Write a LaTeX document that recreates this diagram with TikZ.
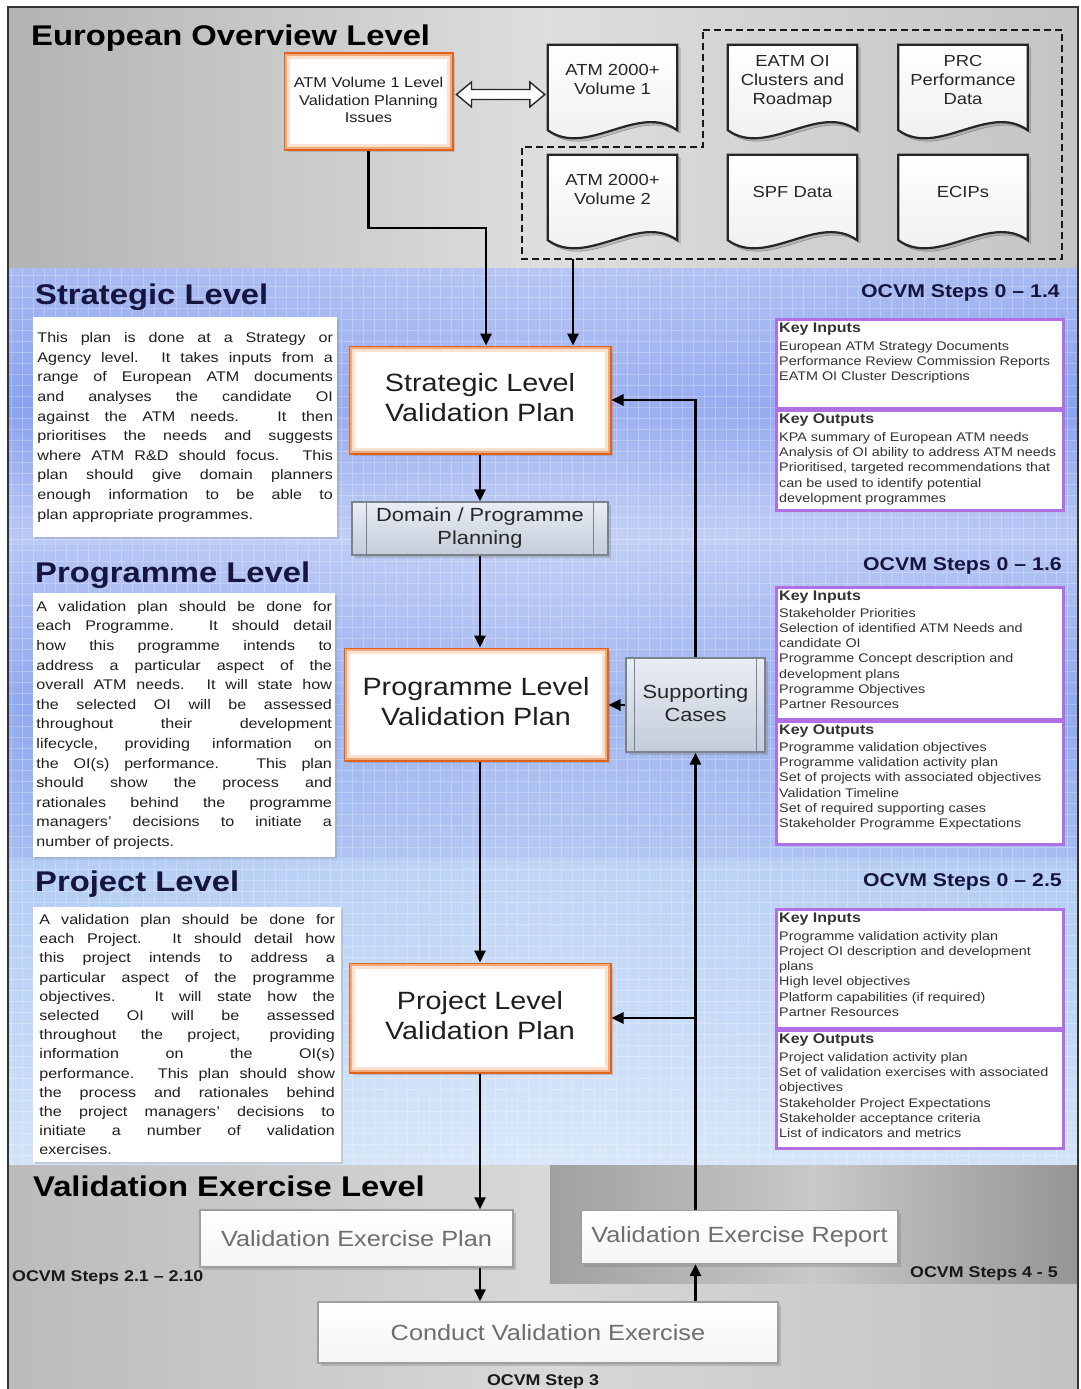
\documentclass[tikz,border=0pt]{standalone}
\usepackage{fontspec}
\setmainfont{Liberation Sans}
\usepackage{graphicx}
\usetikzlibrary{calc,shadows,arrows.meta,fadings}

\definecolor{orangeline}{HTML}{E0621C}
\definecolor{orangeglowA}{HTML}{F2A97E}
\definecolor{orangeglowB}{HTML}{FBE1CE}
\definecolor{violetline}{HTML}{B070E4}
\definecolor{navy}{HTML}{15153F}
\definecolor{greytext}{HTML}{6E6E6E}
\definecolor{procline}{HTML}{7A828E}
\definecolor{proctop}{HTML}{E9EDF4}
\definecolor{procbot}{HTML}{C4CCDA}
\definecolor{ovl}{HTML}{B3B3B3}
\definecolor{ovm}{HTML}{DEDEDE}
\definecolor{ovr}{HTML}{C4C4C4}
\definecolor{sa}{HTML}{A7BAF2}
\definecolor{sb}{HTML}{8AA2EE}
\definecolor{sc}{HTML}{BCCAF5}
\definecolor{pa}{HTML}{B4C4F4}
\definecolor{pb}{HTML}{91A9EE}
\definecolor{pc}{HTML}{A6BEF1}
\definecolor{ja}{HTML}{B3CCF4}
\definecolor{jb}{HTML}{C0D6F6}
\definecolor{jc}{HTML}{D2E3F8}
\definecolor{vl}{HTML}{BBBBBB}
\definecolor{vm}{HTML}{D8D8D8}
\definecolor{vr}{HTML}{C2C2C2}
\definecolor{dl}{HTML}{A0A0A0}
\definecolor{dm}{HTML}{C9C9C9}
\definecolor{dr}{HTML}{959595}

\pgfdeclarelayer{front}
\pgfsetlayers{main,front}

\tikzfading[name=midglow, left color=transparent!100, right color=transparent!100, middle color=transparent!82]

% horizontal stretch used for all lettering
\newcommand\hs[1]{\scalebox{1.15}[1]{#1}}
\newcommand\stk[1]{\begin{tabular}{@{}c@{}}#1\end{tabular}}
% one justified line of a paragraph
\newcommand\jl[1]{\makebox[\linewidth][s]{#1}\\}
\newcommand\kh[1]{{\bfseries\fontsize{13.9}{15.3}\selectfont #1}}

% document symbol with wavy bottom edge
\newcommand\docshape[2]{%
  \draw[#2] (#1.north west) -- (#1.north east) -- ($(#1.south east)+(0,12)$)
    .. controls ($(#1.south east)!0.3!(#1.south west)+(0,-16)$) and ($(#1.south west)!0.3!(#1.south east)+(0,40)$)
    .. ($(#1.south west)+(0,12)$) -- cycle;}
\newcommand\fulldoc[1]{%
  \docshape{#1}{fill=black!50, opacity=.35, transform canvas={shift={(3pt,-3pt)}}}
  \docshape{#1}{top color=white, bottom color=black!7, draw=black!85, line width=2.2pt}}
% soft inner rim of the orange plan boxes
\newcommand\glow[1]{%
  \draw[orangeglowA, line width=2pt] ([shift={(2.5,2.5)}]#1.north west) rectangle ([shift={(-2.5,-2.5)}]#1.south east);
  \draw[orangeglowB, line width=3pt] ([shift={(5,5)}]#1.north west) rectangle ([shift={(-5,-5)}]#1.south east);}
% inner bars of the predefined-process boxes
\newcommand\bars[2]{%
  \draw[procline, line width=1.2pt] ([xshift=#2]#1.north west) -- ([xshift=#2]#1.south west);
  \draw[procline, line width=1.2pt] ([xshift=-#2]#1.north east) -- ([xshift=-#2]#1.south east);}

\begin{document}
\begin{tikzpicture}[x=1pt,y=-1pt,
  title/.style={anchor=base west, inner sep=0, font=\fontsize{28.5}{32}\selectfont\bfseries},
  ocvm/.style={anchor=base east, inner sep=0, text=navy, font=\fontsize{18.5}{20}\selectfont\bfseries},
  steplabel/.style={inner sep=0, font=\fontsize{15.5}{18}\selectfont\bfseries, text=black!90},
  shade/.style={drop shadow={shadow xshift=3pt, shadow yshift=-3pt, opacity=.35}},
  planbox/.style={draw=orangeline, line width=3pt, fill=white, inner sep=0, text=black!88,
    font=\fontsize{25}{30}\selectfont, shade},
  smallplan/.style={planbox, font=\fontsize{14.2}{17.5}\selectfont},
  docbox/.style={inner sep=0, font=\fontsize{16}{19}\selectfont, text=black!85},
  procbox/.style={draw=procline, line width=1.4pt, top color=proctop, bottom color=procbot,
    inner sep=0, font=\fontsize{19}{23}\selectfont, text=black!85, shade},
  parabox/.style={fill=white, inner sep=0, text=black!88, anchor=north west,
    drop shadow={shadow xshift=2pt, shadow yshift=-2pt, opacity=.25}},
  keybox/.style={draw=violetline, line width=3pt, fill=white, inner sep=0, anchor=north west,
    minimum width=287},
  keytext/.style={anchor=north west, inner sep=0, font=\fontsize{12.5}{15.3}\selectfont, text=black!80},
  vebox/.style={draw=black!38, line width=1.2pt, top color=white, bottom color=black!4, inner sep=0,
    text=greytext, font=\fontsize{22}{26}\selectfont, shade},
  gridline/.style={white, opacity=.25, line width=.6pt},
  dashframe/.style={black!90, line width=2.8pt, dash pattern=on 7pt off 4pt},
  arr/.style={black, line width=2.6pt, -{Triangle[length=12pt,width=11pt]}},
]
\useasboundingbox (0,0) rectangle (1080,1389);

% ---------- level bands ----------
\fill[white] (0,0) rectangle (1080,1389);
\fill[left color=ovl, right color=ovr, middle color=ovm] (8,8) rectangle (1078,268);
\fill[top color=sa, bottom color=sc, middle color=sb] (8,268) rectangle (1078,545);
\fill[top color=pa, bottom color=pc, middle color=pb] (8,545) rectangle (1078,860);
\fill[top color=ja, bottom color=jc, middle color=jb] (8,860) rectangle (1078,1165);
\fill[white, path fading=midglow] (8,268) rectangle (1078,1165);
\draw[gridline] (8,268) grid[step=11pt] (1078,1165);
\fill[left color=vl, right color=vr, middle color=vm] (8,1165) rectangle (1078,1389);
\fill[left color=dl, right color=dr, middle color=dm] (550,1165) rectangle (1078,1283);
\draw[black!80, line width=2pt] (8,1389) -- (8,7) -- (1078,7) -- (1078,1389);

% ---------- level titles ----------
\node[title] (tEur) at (31,46) {\hs{European Overview Level}};
\node[title, text=navy] (tStr) at (35,304) {\hs{Strategic Level}};
\node[title, text=navy] (tPrg) at (35,582) {\hs{Programme Level}};
\node[title, text=navy] (tPrj) at (35,891) {\hs{Project Level}};
\node[title] (tVal) at (33,1196) {\hs{Validation Exercise Level}};

\node[ocvm] (oStr) at (1060,297) {\hs{OCVM Steps 0 – 1.4}};
\node[ocvm] (oPrg) at (1062,570) {\hs{OCVM Steps 0 – 1.6}};
\node[ocvm] (oPrj) at (1062,886) {\hs{OCVM Steps 0 – 2.5}};
\node[steplabel, anchor=base west] (oVep) at (12,1281) {\hs{OCVM Steps 2.1 – 2.10}};
\node[steplabel, anchor=base east] (oVer) at (1058,1277) {\hs{OCVM Steps 4 - 5}};
\node[steplabel, anchor=base] (oCve) at (543,1385) {\hs{OCVM Step 3}};

% ---------- European overview documents ----------
\draw[dashframe] (703,30) -- (1062,30) -- (1062,259) -- (522,259) -- (522,147) -- (703,147) -- cycle;
\coordinate (dashout) at (573,259);

\node[smallplan, minimum width=167, minimum height=95] (atm1) at (368.5,101.5)
  {\hs{\stk{ATM Volume 1 Level\\Validation Planning\\Issues}}};
\glow{atm1}

\begin{pgfonlayer}{front}
\node[docbox, minimum width=129, minimum height=73] (vol1) at (612.5,81.5) {\hs{\stk{ATM 2000+\\Volume 1}}};
\node[docbox, minimum width=129, minimum height=73] (eatm) at (792.5,81.5) {\hs{\stk{EATM OI\\Clusters and\\Roadmap}}};
\node[docbox, minimum width=129, minimum height=73] (prc) at (963,81.5) {\hs{\stk{PRC\\Performance\\Data}}};
\node[docbox, minimum width=129, minimum height=73] (vol2) at (612.5,191.5) {\hs{\stk{ATM 2000+\\Volume 2}}};
\node[docbox, minimum width=129, minimum height=73] (spf) at (792.5,191.5) {\hs{SPF Data}};
\node[docbox, minimum width=129, minimum height=73] (ecip) at (963,191.5) {\hs{ECIPs}};
\end{pgfonlayer}
\fulldoc{vol1}\fulldoc{eatm}\fulldoc{prc}\fulldoc{vol2}\fulldoc{spf}\fulldoc{ecip}

% hollow two-way arrow between the issues box and Volume 1
\coordinate (dal) at ($(atm1.east)+(3,-7)$);
\coordinate (dar) at ($(vol1.west |- dal)+(-3,0)$);
\draw[black!85, fill=white, line width=1.4pt] (dal) -- ++(15,-12.5) -- ++(0,7.5) -- ($(dar)+(-15,-5)$)
  -- ++(0,-7.5) -- (dar) -- ++(-15,12.5) -- ++(0,-7.5) -- ($(dal)+(15,5)$) -- ++(0,7.5) -- cycle;

% ---------- plan boxes ----------
\node[planbox, minimum width=260, minimum height=106] (slvp) at (480,400) {\hs{\stk{Strategic Level\\Validation Plan}}};
\node[planbox, minimum width=262, minimum height=111] (plvp) at (476,704.5) {\hs{\stk{Programme Level\\Validation Plan}}};
\node[planbox, minimum width=260, minimum height=108] (jlvp) at (480,1018) {\hs{\stk{Project Level\\Validation Plan}}};
\glow{slvp}\glow{plvp}\glow{jlvp}

\node[procbox, minimum width=256, minimum height=53] (dpp) at (480,528.5) {\hs{\stk{Domain / Programme\\Planning}}};
\node[procbox, minimum width=139, minimum height=94] (sc) at (695.5,705) {\hs{\stk{Supporting\\Cases}}};
\bars{dpp}{15}\bars{sc}{9}

% ---------- description paragraphs ----------
\node[parabox, minimum width=304, minimum height=220, font=\fontsize{14}{19.6}\selectfont] (pStr) at (33,317)
 {\hs{\parbox{257pt}{%
 \jl{This plan is done at a Strategy or}
 \jl{Agency level.  It takes inputs from a}
 \jl{range of European ATM documents}
 \jl{and analyses the candidate OI}
 \jl{against the ATM needs.  It then}
 \jl{prioritises the needs and suggests}
 \jl{where ATM R\&D should focus.  This}
 \jl{plan should give domain planners}
 \jl{enough information to be able to}
 \makebox[\linewidth][l]{plan appropriate programmes.}}}};

\node[parabox, minimum width=302, minimum height=264, font=\fontsize{14}{19.6}\selectfont] (pPrg) at (33,593)
 {\hs{\parbox{257pt}{%
 \jl{A validation plan should be done for}
 \jl{each Programme.  It should detail}
 \jl{how this programme intends to}
 \jl{address a particular aspect of the}
 \jl{overall ATM needs.  It will state how}
 \jl{the selected OI will be assessed}
 \jl{throughout their development}
 \jl{lifecycle, providing information on}
 \jl{the OI(s) performance.  This plan}
 \jl{should show the process and}
 \jl{rationales behind the programme}
 \jl{managers' decisions to initiate a}
 \makebox[\linewidth][l]{number of projects.}}}};

\node[parabox, minimum width=308, minimum height=255, font=\fontsize{14}{19.2}\selectfont] (pPrj) at (33,907)
 {\hs{\parbox{257pt}{%
 \jl{A validation plan should be done for}
 \jl{each Project.  It should detail how}
 \jl{this project intends to address a}
 \jl{particular aspect of the programme}
 \jl{objectives.  It will state how the}
 \jl{selected OI will be assessed}
 \jl{throughout the project, providing}
 \jl{information on the OI(s)}
 \jl{performance.  This plan should show}
 \jl{the process and rationales behind}
 \jl{the project managers' decisions to}
 \jl{initiate a number of validation}
 \makebox[\linewidth][l]{exercises.}}}};

% ---------- key inputs / outputs ----------
\node[keybox, minimum height=89] (kinS) at (775,318) {};
\node[keybox, minimum height=100] (koutS) at (775,409) {};
\node[keybox, minimum height=132] (kinP) at (775,586) {};
\node[keybox, minimum height=123] (koutP) at (775,720) {};
\node[keybox, minimum height=119] (kinJ) at (775,908) {};
\node[keybox, minimum height=118] (koutJ) at (775,1029) {};

\node[keytext] (kinSt) at (779,323) {\hs{\parbox[t]{245pt}{\raggedright\kh{Key Inputs}\\[2pt]
 European ATM Strategy Documents\\ Performance Review Commission Reports\\ EATM OI Cluster Descriptions}}};
\node[keytext] (koutSt) at (779,414) {\hs{\parbox[t]{245pt}{\raggedright\kh{Key Outputs}\\[2pt]
 KPA summary of European ATM needs\\ Analysis of OI ability to address ATM needs\\
 Prioritised, targeted recommendations that\\ can be used to identify potential\\ development programmes}}};
\node[keytext] (kinPt) at (779,591) {\hs{\parbox[t]{245pt}{\raggedright\kh{Key Inputs}\\[1pt]
 Stakeholder Priorities\\ Selection of identified ATM Needs and\\ candidate OI\\
 Programme Concept description and\\ development plans\\ Programme Objectives\\ Partner Resources}}};
\node[keytext] (koutPt) at (779,725) {\hs{\parbox[t]{245pt}{\raggedright\kh{Key Outputs}\\[1pt]
 Programme validation objectives\\ Programme validation activity plan\\
 Set of projects with associated objectives\\ Validation Timeline\\
 Set of required supporting cases\\ Stakeholder Programme Expectations}}};
\node[keytext] (kinJt) at (779,913) {\hs{\parbox[t]{245pt}{\raggedright\kh{Key Inputs}\\[2pt]
 Programme validation activity plan\\ Project OI description and development\\ plans\\
 High level objectives\\ Platform capabilities (if required)\\ Partner Resources}}};
\node[keytext] (koutJt) at (779,1034) {\hs{\parbox[t]{245pt}{\raggedright\kh{Key Outputs}\\[2pt]
 Project validation activity plan\\ Set of validation exercises with associated\\ objectives\\
 Stakeholder Project Expectations\\ Stakeholder acceptance criteria\\ List of indicators and metrics}}};

% ---------- validation exercise level ----------
\node[vebox, minimum width=313, minimum height=57] (vep) at (356.5,1238.5) {\hs{Validation Exercise Plan}};
\node[vebox, minimum width=317, minimum height=53] (ver) at (739.5,1237) {\hs{Validation Exercise Report}};
\node[vebox, minimum width=460, minimum height=61] (cve) at (548,1332.5) {\hs{Conduct Validation Exercise}};

% ---------- connectors ----------
\coordinate (bend) at (486,228);
\draw[arr] (atm1.south) |- (bend) -- (bend |- slvp.north);
\draw[arr] (dashout) -- (dashout |- slvp.north);
\draw[arr] (slvp.south) -- (slvp.south |- dpp.north);
\draw[arr] (dpp.south) -- (dpp.south |- plvp.north);
\draw[arr] (sc.north) |- (slvp.east);
\draw[arr] (sc.west) -- (sc.west -| plvp.east);
\draw[arr] (jlvp.north |- plvp.south) -- (jlvp.north);
\draw[arr] (sc.south |- ver.north) -- (sc.south);
\draw[arr] (sc.south |- jlvp.east) -- (jlvp.east);
\draw[arr] (jlvp.south) -- (jlvp.south |- vep.north);
\draw[arr] (jlvp.south |- vep.south) -- (jlvp.south |- cve.north);
\draw[arr] (sc.south |- cve.north) -- (sc.south |- ver.south);
\end{tikzpicture}
\end{document}
